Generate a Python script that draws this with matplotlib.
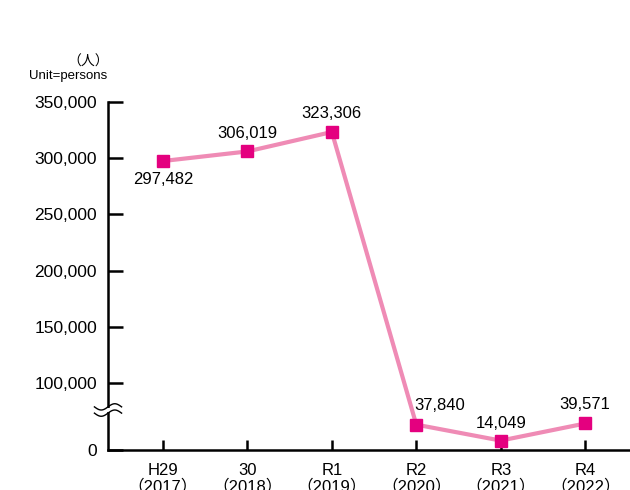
import numpy as np
import matplotlib
matplotlib.use('Agg')
import matplotlib.pyplot as plt

plt.rcParams['font.family'] = ['Liberation Sans', 'Noto Sans CJK JP', 'DejaVu Sans']

# data
years = ['H29\n（2017）', '30\n（2018）', 'R1\n（2019）', 'R2\n（2020）', 'R3\n（2021）', 'R4\n（2022）']
visitors = [297482, 306019, 323306, 37840, 14049, 39571]
yticks = [0, 100000, 150000, 200000, 250000, 300000, 350000]

# label offsets (points)
offsets = [(0, -13), (0, 13), (0, 13), (17, 14), (0, 12), (0, 14)]

# broken axis: 0-100000 compressed
K = 0.596
BRK = 100000


def fwd(y):
    y = np.asarray(y, dtype=float)
    return np.where(y <= BRK, y * K, BRK * K + (y - BRK))


def inv(v):
    v = np.asarray(v, dtype=float)
    return np.where(v <= BRK * K, v / K, BRK + (v - BRK * K))


fig = plt.figure(figsize=(6.3, 4.9), dpi=100)
ax = fig.add_axes([108 / 630, 40 / 490, 1 - 108 / 630, 348 / 490])
ax.set_yscale('function', functions=(fwd, inv))

x = np.arange(len(visitors))
ax.plot(x, visitors, color='#EF8BB5', lw=3, zorder=2)
ax.plot(x, visitors, ls='none', marker='s', ms=8.5, color='#E4007F', zorder=3)

for xi, v, off in zip(x, visitors, offsets):
    ax.annotate(f'{v:,}', (xi, v), xytext=off, textcoords='offset points',
                ha='center', va='center', fontsize=12)

ax.set_xlim(-0.65, 5.53)
ax.set_ylim(0, 350000)
ax.set_xticks(x)
ax.set_xticklabels(years, fontsize=12, linespacing=1.05)
ax.set_yticks(yticks)
ax.set_yticklabels([f'{t:,}' for t in yticks], fontsize=12.5)

ax.tick_params(axis='y', direction='in', length=11, width=1.8, pad=8)
ax.tick_params(axis='x', direction='in', length=7, width=1.8, pad=9)

for s in ['top', 'right']:
    ax.spines[s].set_visible(False)
for s in ['left', 'bottom']:
    ax.spines[s].set_linewidth(1.8)

# break mark on y-axis
yb = 1 - (410 - 102) / 348
t = np.linspace(-1, 1, 40)
xs = t * 0.026
ax.fill_between(xs, yb - 0.007, yb + 0.007, transform=ax.transAxes,
                color='white', clip_on=False, zorder=4, lw=0)
for dy in (0.009, -0.009):
    ys = yb + dy + 0.009 * np.sin(t * np.pi)
    ax.plot(xs, ys, transform=ax.transAxes, color='black', lw=1,
            clip_on=False, zorder=5)

fig.text(88 / 630, 1 - 62 / 490, '（人）', ha='center', va='center', fontsize=10)
fig.text(68 / 630, 1 - 76 / 490, 'Unit=persons', ha='center', va='center', fontsize=9.5)

fig.savefig('out.png', dpi=100)
